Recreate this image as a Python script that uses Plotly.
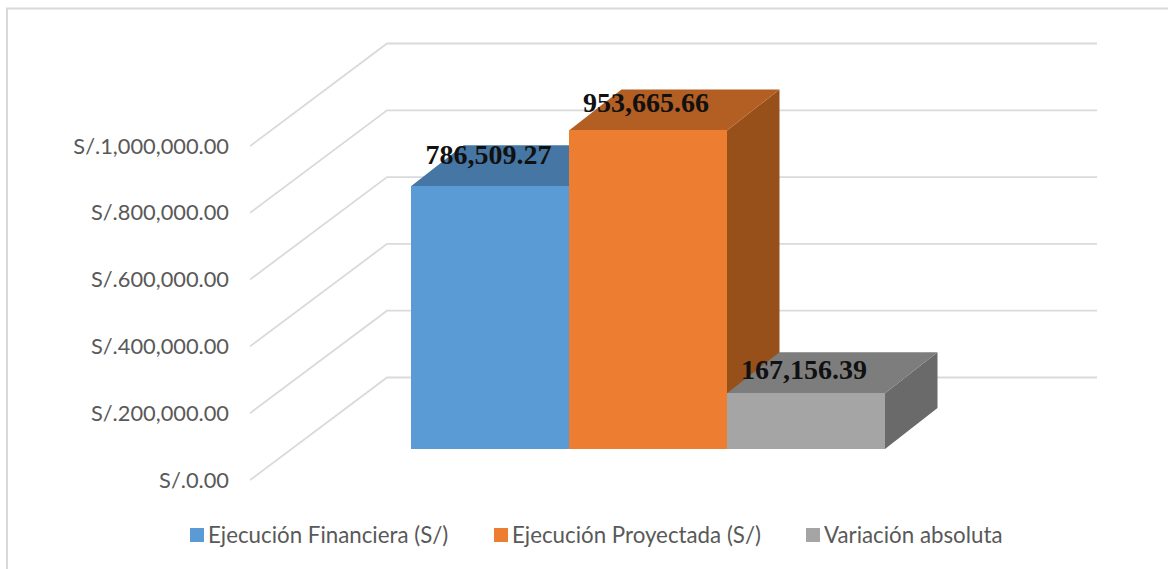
import plotly.graph_objects as go

# ---- data ----
series = ["Ejecución Financiera (S/)", "Ejecución Proyectada (S/)", "Variación absoluta"]
values = [786509.27, 953665.66, 167156.39]
value_labels = ["786,509.27", "953,665.66", "167,156.39"]
tick_values = [0, 200000, 400000, 600000, 800000, 1000000]
tick_labels = ["S/.0.00", "S/.200,000.00", "S/.400,000.00", "S/.600,000.00", "S/.800,000.00", "S/.1,000,000.00"]

# ---- style ----
front_colors = ["#5B9BD5", "#ED7D31", "#A5A5A5"]
top_colors = ["#4676A3", "#B35E22", "#7D7D7D"]
side_colors = ["#3F6B94", "#98501B", "#6A6A6A"]
GRID = "#DADADA"
TEXT = "#595959"
SANS = "Lato, Carlito, sans-serif"
SERIF = "Liberation Serif, serif"

# ---- layout geometry (px) ----
W, H = 1168, 569
L, R, T, B = 250, 71, 20, 60            # plot area inside the page
X0_PX, BASE_PX = 411, 449               # lower-left front corner of the first bar
BAR_PX = 158                            # bar width
PX_PER_UNIT = 0.334 / 1000              # px per currency unit
plot_w, plot_h = W - L - R, H - T - B

u_x = lambda px: (px - X0_PX) / BAR_PX
u_y = lambda px: (BASE_PX - px) / PX_PER_UNIT
paper_x = lambda px: (px - L) / plot_w
paper_y = lambda px: (H - B - px) / plot_h

# oblique projection offsets
DEPTH_X = 52.5 / BAR_PX
DEPTH_Y = 41 / PX_PER_UNIT
FRONT_OFF = u_y(480)       # value 0 on the left (front) edge
BACK_OFF = u_y(377.5)      # value 0 on the back wall
WALL_X = u_x(387)
LEFT_X, RIGHT_X = u_x(L), u_x(W - R)

shapes = []
# gridlines: diagonal along the side wall, then horizontal along the back wall
for v in tick_values:
    shapes.append(dict(
        type="path", layer="below", xref="x", yref="y",
        path=f"M{LEFT_X},{v + FRONT_OFF} L{WALL_X},{v + BACK_OFF} L{RIGHT_X},{v + BACK_OFF}",
        line=dict(color=GRID, width=1.8),
    ))

# 3-D faces of each bar (behind the front faces, later bars above earlier ones)
for i, v in enumerate(values):
    x0, x1 = i, i + 1
    top = (f"M{x0},{v} L{x1},{v} L{x1 + DEPTH_X},{v + DEPTH_Y} L{x0 + DEPTH_X},{v + DEPTH_Y} Z")
    side = (f"M{x1},0 L{x1 + DEPTH_X},{DEPTH_Y} L{x1 + DEPTH_X},{v + DEPTH_Y} L{x1},{v} Z")
    shapes.append(dict(type="path", layer="below", xref="x", yref="y", path=side,
                       fillcolor=side_colors[i], line=dict(width=0)))
    shapes.append(dict(type="path", layer="below", xref="x", yref="y", path=top,
                       fillcolor=top_colors[i], line=dict(width=0)))

# chart border: only its top and left edges fall inside the picture
shapes.append(dict(type="rect", xref="paper", yref="paper", layer="below",
                   x0=paper_x(7), x1=paper_x(1180), y0=paper_y(8.5), y1=paper_y(580),
                   line=dict(color="#D9D9D9", width=2)))

fig = go.Figure()
for i, name in enumerate(series):
    fig.add_trace(go.Bar(x=[i + 0.5], y=[values[i]], width=1, name=name,
                         marker=dict(color=front_colors[i], line=dict(width=0)),
                         showlegend=False))

# data labels
label_dx = [-1.5, -2, -2]               # px
label_dy = [88000, 76000, 64000]        # currency units
fig.add_trace(go.Scatter(
    x=[i + 0.5 + label_dx[i] / BAR_PX for i in range(3)],
    y=[values[i] + label_dy[i] for i in range(3)],
    mode="text", text=value_labels, textposition="middle center",
    textfont=dict(family=SERIF, size=28, color="#111111", weight=700),
    showlegend=False, hoverinfo="skip", cliponaxis=False,
))

# legend
annotations = []
legend_px = [(190, 206), (494, 510), (806, 822)]
for i, name in enumerate(series):
    sq, tx = legend_px[i]
    shapes.append(dict(type="rect", xref="paper", yref="paper", layer="above",
                       x0=paper_x(sq), x1=paper_x(sq + 14), y0=paper_y(528), y1=paper_y(542),
                       fillcolor=front_colors[i], line=dict(width=0)))
    annotations.append(dict(xref="paper", yref="paper", x=paper_x(tx), y=paper_y(534),
                            text=name, showarrow=False, xanchor="left", yanchor="middle",
                            font=dict(family=SANS, size=22.3, color=TEXT)))

fig.update_layout(
    width=W, height=H,
    margin=dict(l=L, r=R, t=T, b=B, autoexpand=False),
    paper_bgcolor="white", plot_bgcolor="rgba(0,0,0,0)",
    shapes=shapes, annotations=annotations, showlegend=False,
    bargap=0,
    xaxis=dict(visible=False, range=[LEFT_X, RIGHT_X]),
    yaxis=dict(
        range=[u_y(H - B), u_y(T)],
        tickmode="array",
        tickvals=[v + FRONT_OFF for v in tick_values],
        ticktext=tick_labels,
        showgrid=False, zeroline=False, showline=False, ticks="",
        ticklabelstandoff=20,
        tickfont=dict(family=SANS, size=21.8, color=TEXT),
    ),
)
fig.write_html("out.html", config=dict(displayModeBar=False),
               post_script="document.body.style.margin='0';document.documentElement.style.overflow='hidden';")
